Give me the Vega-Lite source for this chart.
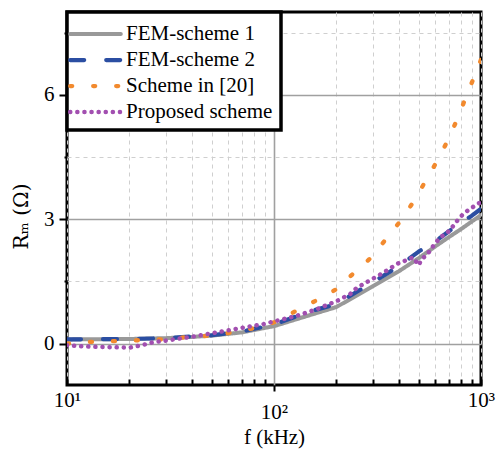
{
  "$schema": "https://vega.github.io/schema/vega-lite/v6.json",
  "width": 414,
  "height": 373,
  "autosize": "none",
  "padding": {"left": 67, "top": 12, "right": 15, "bottom": 65},
  "background": "white",
  "config": {
    "view": {"stroke": "black", "strokeWidth": 3},
    "font": "'Liberation Serif', 'Times New Roman', Times, serif",
    "axis": {"labelFont": "'Liberation Serif', 'Times New Roman', Times, serif", "titleFont": "'Liberation Serif', 'Times New Roman', Times, serif"},
    "legend": {"strokeWidth": 3.5, "labelFont": "'Liberation Serif', 'Times New Roman', Times, serif"}
  },
  "data": {"values": [
    {"f": 10, "R": 0.1, "s": "FEM-scheme 1"},
    {"f": 20, "R": 0.11, "s": "FEM-scheme 1"},
    {"f": 30, "R": 0.13, "s": "FEM-scheme 1"},
    {"f": 40, "R": 0.16, "s": "FEM-scheme 1"},
    {"f": 50, "R": 0.19, "s": "FEM-scheme 1"},
    {"f": 70, "R": 0.27, "s": "FEM-scheme 1"},
    {"f": 100, "R": 0.42, "s": "FEM-scheme 1"},
    {"f": 150, "R": 0.69, "s": "FEM-scheme 1"},
    {"f": 200, "R": 0.88, "s": "FEM-scheme 1"},
    {"f": 300, "R": 1.38, "s": "FEM-scheme 1"},
    {"f": 400, "R": 1.74, "s": "FEM-scheme 1"},
    {"f": 500, "R": 2.06, "s": "FEM-scheme 1"},
    {"f": 600, "R": 2.34, "s": "FEM-scheme 1"},
    {"f": 700, "R": 2.57, "s": "FEM-scheme 1"},
    {"f": 800, "R": 2.76, "s": "FEM-scheme 1"},
    {"f": 900, "R": 2.94, "s": "FEM-scheme 1"},
    {"f": 1000, "R": 3.1, "s": "FEM-scheme 1"},
    {"f": 10, "R": 0.1, "s": "FEM-scheme 2"},
    {"f": 20, "R": 0.11, "s": "FEM-scheme 2"},
    {"f": 30, "R": 0.13, "s": "FEM-scheme 2"},
    {"f": 50, "R": 0.2, "s": "FEM-scheme 2"},
    {"f": 70, "R": 0.29, "s": "FEM-scheme 2"},
    {"f": 100, "R": 0.46, "s": "FEM-scheme 2"},
    {"f": 150, "R": 0.78, "s": "FEM-scheme 2"},
    {"f": 200, "R": 0.95, "s": "FEM-scheme 2"},
    {"f": 300, "R": 1.48, "s": "FEM-scheme 2"},
    {"f": 400, "R": 1.86, "s": "FEM-scheme 2"},
    {"f": 500, "R": 2.22, "s": "FEM-scheme 2"},
    {"f": 600, "R": 2.46, "s": "FEM-scheme 2"},
    {"f": 700, "R": 2.71, "s": "FEM-scheme 2"},
    {"f": 800, "R": 2.92, "s": "FEM-scheme 2"},
    {"f": 900, "R": 3.08, "s": "FEM-scheme 2"},
    {"f": 1000, "R": 3.25, "s": "FEM-scheme 2"},
    {"f": 10, "R": 0.0, "s": "Scheme in [20]"},
    {"f": 13, "R": 0.04, "s": "Scheme in [20]"},
    {"f": 17, "R": 0.06, "s": "Scheme in [20]"},
    {"f": 22, "R": 0.08, "s": "Scheme in [20]"},
    {"f": 29, "R": 0.1, "s": "Scheme in [20]"},
    {"f": 37, "R": 0.15, "s": "Scheme in [20]"},
    {"f": 49, "R": 0.19, "s": "Scheme in [20]"},
    {"f": 63, "R": 0.27, "s": "Scheme in [20]"},
    {"f": 80, "R": 0.37, "s": "Scheme in [20]"},
    {"f": 103, "R": 0.53, "s": "Scheme in [20]"},
    {"f": 129, "R": 0.8, "s": "Scheme in [20]"},
    {"f": 163, "R": 1.06, "s": "Scheme in [20]"},
    {"f": 200, "R": 1.31, "s": "Scheme in [20]"},
    {"f": 244, "R": 1.71, "s": "Scheme in [20]"},
    {"f": 297, "R": 2.09, "s": "Scheme in [20]"},
    {"f": 351, "R": 2.55, "s": "Scheme in [20]"},
    {"f": 415, "R": 3.0, "s": "Scheme in [20]"},
    {"f": 481, "R": 3.49, "s": "Scheme in [20]"},
    {"f": 551, "R": 4.0, "s": "Scheme in [20]"},
    {"f": 628, "R": 4.49, "s": "Scheme in [20]"},
    {"f": 710, "R": 5.02, "s": "Scheme in [20]"},
    {"f": 786, "R": 5.54, "s": "Scheme in [20]"},
    {"f": 868, "R": 6.09, "s": "Scheme in [20]"},
    {"f": 959, "R": 6.61, "s": "Scheme in [20]"},
    {"f": 1000, "R": 6.85, "s": "Scheme in [20]"},
    {"f": 10, "R": -0.04, "s": "Proposed scheme"},
    {"f": 12, "R": -0.07, "s": "Proposed scheme"},
    {"f": 14, "R": -0.08, "s": "Proposed scheme"},
    {"f": 17, "R": -0.09, "s": "Proposed scheme"},
    {"f": 20, "R": -0.1, "s": "Proposed scheme"},
    {"f": 23, "R": -0.04, "s": "Proposed scheme"},
    {"f": 26, "R": 0.03, "s": "Proposed scheme"},
    {"f": 31, "R": 0.08, "s": "Proposed scheme"},
    {"f": 35, "R": 0.12, "s": "Proposed scheme"},
    {"f": 41, "R": 0.17, "s": "Proposed scheme"},
    {"f": 48, "R": 0.23, "s": "Proposed scheme"},
    {"f": 60, "R": 0.32, "s": "Proposed scheme"},
    {"f": 72, "R": 0.39, "s": "Proposed scheme"},
    {"f": 89, "R": 0.47, "s": "Proposed scheme"},
    {"f": 103, "R": 0.55, "s": "Proposed scheme"},
    {"f": 129, "R": 0.67, "s": "Proposed scheme"},
    {"f": 161, "R": 0.83, "s": "Proposed scheme"},
    {"f": 202, "R": 1.03, "s": "Proposed scheme"},
    {"f": 234, "R": 1.2, "s": "Proposed scheme"},
    {"f": 252, "R": 1.35, "s": "Proposed scheme"},
    {"f": 292, "R": 1.53, "s": "Proposed scheme"},
    {"f": 338, "R": 1.71, "s": "Proposed scheme"},
    {"f": 392, "R": 1.92, "s": "Proposed scheme"},
    {"f": 430, "R": 2.0, "s": "Proposed scheme"},
    {"f": 470, "R": 2.08, "s": "Proposed scheme"},
    {"f": 499, "R": 1.89, "s": "Proposed scheme"},
    {"f": 520, "R": 2.05, "s": "Proposed scheme"},
    {"f": 548, "R": 2.14, "s": "Proposed scheme"},
    {"f": 589, "R": 2.36, "s": "Proposed scheme"},
    {"f": 634, "R": 2.56, "s": "Proposed scheme"},
    {"f": 683, "R": 2.66, "s": "Proposed scheme"},
    {"f": 735, "R": 2.84, "s": "Proposed scheme"},
    {"f": 777, "R": 3.0, "s": "Proposed scheme"},
    {"f": 822, "R": 3.13, "s": "Proposed scheme"},
    {"f": 885, "R": 3.25, "s": "Proposed scheme"},
    {"f": 953, "R": 3.35, "s": "Proposed scheme"},
    {"f": 1000, "R": 3.42, "s": "Proposed scheme"}
  ]},
  "mark": {"type": "line", "strokeCap": "round", "strokeJoin": "round", "clip": true},
  "encoding": {
    "x": {
      "field": "f", "type": "quantitative",
      "scale": {"type": "log", "domain": [10, 1000], "nice": false},
      "axis": {
        "values": [10, 20, 30, 40, 50, 60, 70, 80, 90, 100, 200, 300, 400, 500, 600, 700, 800, 900, 1000],
        "labelExpr": "datum.value == 10 ? '10¹' : datum.value == 100 ? '10²' : datum.value == 1000 ? '10³' : ''",
        "labelFontSize": 21, "labelColor": "black", "labelPadding": 10,
        "labelFlush": false, "labelOverlap": false,
        "domain": false,
        "tickColor": "black", "tickWidth": 2,
        "tickSize": {"condition": {"test": "datum.value == 100", "value": 6}, "value": -6},
        "grid": true,
        "gridColor": {"condition": {"test": "datum.value == 100", "value": "#a0a0a0"}, "value": "#cfcfcf"},
        "gridDash": {"condition": {"test": "datum.value == 100", "value": []}, "value": [4, 4]},
        "gridWidth": {"condition": {"test": "datum.value == 100", "value": 1.6}, "value": 1},
        "title": "f (kHz)", "titleFontSize": 21, "titleFontWeight": "normal", "titleColor": "black",
        "titlePadding": 4
      }
    },
    "y": {
      "field": "R", "type": "quantitative",
      "scale": {"domain": [-1, 8], "nice": false, "zero": false},
      "axis": {
        "values": [0, 1.5, 3, 4.5, 6, 7.5],
        "labelExpr": "datum.value == 0 || datum.value == 3 || datum.value == 6 ? datum.value : ''",
        "labelFontSize": 21, "labelColor": "black", "labelPadding": 5,
        "domain": false,
        "tickColor": "black", "tickWidth": 2,
        "tickSize": {"condition": {"test": "datum.value == 0 || datum.value == 3 || datum.value == 6", "value": 8}, "value": 3},
        "grid": true,
        "gridColor": {"condition": {"test": "datum.value == 0 || datum.value == 3 || datum.value == 6", "value": "#a0a0a0"}, "value": "#cfcfcf"},
        "gridDash": {"condition": {"test": "datum.value == 0 || datum.value == 3 || datum.value == 6", "value": []}, "value": [4, 4]},
        "gridWidth": {"condition": {"test": "datum.value == 0 || datum.value == 3 || datum.value == 6", "value": 1.6}, "value": 1},
        "title": "Rₘ (Ω)", "titleFontSize": 20, "titleFontWeight": "normal", "titleColor": "black",
        "titleFont": "DejaVu Serif", "titlePadding": 12, "titleY": 204
      }
    },
    "color": {
      "field": "s", "type": "nominal",
      "scale": {
        "domain": ["FEM-scheme 1", "FEM-scheme 2", "Scheme in [20]", "Proposed scheme"],
        "range": ["#999999", "#2b4ea2", "#f28a2e", "#a24fb0"]
      },
      "legend": {
        "title": null, "orient": "top-left", "offset": 0,
        "fillColor": "white", "strokeColor": "black", "padding": 8,
        "labelFontSize": 21, "labelColor": "black",
        "symbolType": "M-4.6,0.65H4.6", "symbolSize": 121, "symbolStrokeWidth": 4,
        "symbolOffset": 10, "labelOffset": 20, "rowPadding": 2,
        "encode": {
          "symbols": {"update": {"strokeCap": {"value": "round"}}},
          "labels": {"update": {"dy": {"value": 3.5}}}
        }
      }
    },
    "strokeDash": {
      "field": "s", "type": "nominal",
      "scale": {
        "domain": ["FEM-scheme 1", "FEM-scheme 2", "Scheme in [20]", "Proposed scheme"],
        "range": [[1, 0], [14, 22], [2, 21], [0.1, 7]]
      },
      "legend": null
    },
    "strokeWidth": {
      "field": "s", "type": "nominal",
      "scale": {
        "domain": ["FEM-scheme 1", "FEM-scheme 2", "Scheme in [20]", "Proposed scheme"],
        "range": [4, 4.5, 5, 4]
      },
      "legend": null
    }
  }
}
